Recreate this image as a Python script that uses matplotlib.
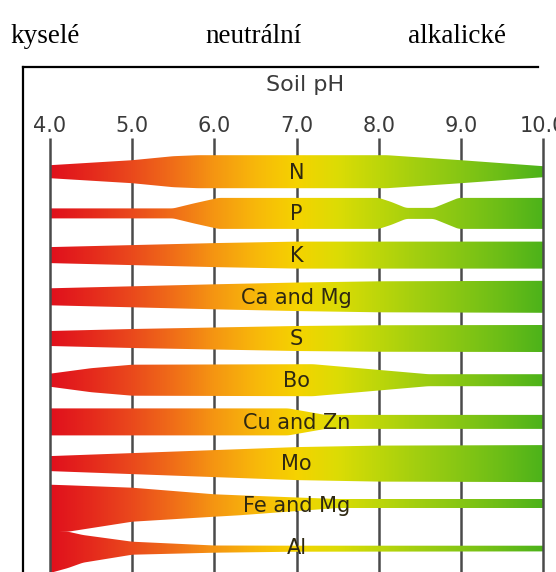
import numpy as np
import matplotlib.pyplot as plt
from matplotlib.colors import LinearSegmentedColormap
from matplotlib.patches import Polygon

headers = ['kyselé', 'neutrální', 'alkalické']
ph_ticks = [4.0, 5.0, 6.0, 7.0, 8.0, 9.0, 10.0]
nutrients = ['N', 'P', 'K', 'Ca and Mg', 'S', 'Bo', 'Cu and Zn', 'Mo', 'Fe and Mg', 'Al']

# band thickness along pH, symmetric bands
ph_n = [4.0, 4.5, 5.0, 5.5, 5.8, 8.1, 9.0, 10.0]
w_n = [13, 18, 23, 31, 33, 33, 23, 11]
ph_p = [4.0, 5.5, 5.75, 6.05, 8.0, 8.15, 8.33, 8.67, 8.85, 8.97, 10.0]
w_p = [10, 10, 20, 31, 31, 23, 11, 11, 23, 31, 31]
ph_k = [4.0, 5.0, 6.0, 7.0, 10.0]
w_k = [16, 20, 24, 27, 27]
ph_ca = [4.0, 5.0, 6.0, 7.0, 8.0, 10.0]
w_ca = [17, 21, 25, 28.5, 31, 32]
ph_s = [4.0, 5.0, 6.0, 7.0, 8.0, 10.0]
w_s = [15, 19, 22, 25, 26.5, 27]
ph_bo = [4.0, 4.5, 5.0, 7.2, 8.6, 10.0]
w_bo = [13, 24, 31, 32, 12, 12]
ph_cu = [4.0, 6.9, 7.35, 10.0]
w_cu = [27, 27, 14, 14]
ph_mo = [4.0, 5.0, 6.0, 7.0, 8.0, 10.0]
w_mo = [15, 21, 27, 33, 36, 37]

# the last two bands are not symmetric: extent above and below the row line
ph_fe = [4.0, 4.22, 5.0, 6.0, 6.3, 7.5, 10.0]
fe_up = [20.6, 20.0, 17.6, 11.0, 10.0, 6.3, 6.3]
fe_down = [27.0, 26.4, 16.4, 11.4, 10.0, 2.7, 2.7]
ph_al = [4.0, 4.22, 4.4, 5.0, 6.0, 7.0, 10.0]
al_up = [15.3, 15.3, 12.0, 5.3, 1.5, 1.3, 1.3]
al_down = [26.0, 21.0, 15.7, 7.7, 5.7, 4.7, 4.4]

bands = [
    (ph_n, [w / 2 for w in w_n], [w / 2 for w in w_n]),
    (ph_p, [w / 2 for w in w_p], [w / 2 for w in w_p]),
    (ph_k, [w / 2 for w in w_k], [w / 2 for w in w_k]),
    (ph_ca, [w / 2 for w in w_ca], [w / 2 for w in w_ca]),
    (ph_s, [w / 2 for w in w_s], [w / 2 for w in w_s]),
    (ph_bo, [w / 2 for w in w_bo], [w / 2 for w in w_bo]),
    (ph_cu, [w / 2 for w in w_cu], [w / 2 for w in w_cu]),
    (ph_mo, [w / 2 for w in w_mo], [w / 2 for w in w_mo]),
    (ph_fe, fe_up, fe_down),
    (ph_al, al_up, al_down),
]

W, H = 556, 572
row_px = 41.7          # pixels between rows
unit = 1 / row_px      # band thickness pixels -> row units

cmap = LinearSegmentedColormap.from_list('ph', [
    (0.0, '#e0101c'), (0.083, '#e52a1c'), (0.167, '#ea4a1c'),
    (0.25, '#f06e18'), (0.333, '#f59612'), (0.417, '#f8b80a'),
    (0.5, '#f5d300'), (0.583, '#dcdc05'), (0.667, '#bcd60a'),
    (0.75, '#a0ce10'), (0.833, '#86c614'), (0.917, '#6bbd17'),
    (1.0, '#4cb21a')])


def smooth(v, n=7):
    k = np.ones(n) / n
    pad = np.pad(v, n // 2, mode='edge')
    return np.convolve(pad, k, mode='valid')


fig = plt.figure(figsize=(W / 100, H / 100), dpi=100)
ax = fig.add_axes([0, 0, 1, 1])
ax.axis('off')

xs = np.linspace(4.0, 10.0, 601)
grad = np.linspace(0, 1, 512).reshape(1, -1)

for i, (ph, up, down) in enumerate(bands):
    top = i - smooth(np.interp(xs, ph, up)) * unit
    bot = i + smooth(np.interp(xs, ph, down)) * unit
    verts = np.vstack([np.column_stack([xs, top]),
                       np.column_stack([xs[::-1], bot[::-1]])])
    poly = Polygon(verts, closed=True, facecolor='none', edgecolor='none')
    ax.add_patch(poly)
    im = ax.imshow(grad, cmap=cmap, extent=(4.0, 10.0, i + 1, i - 1),
                   aspect='auto', interpolation='bilinear', zorder=2)
    im.set_clip_path(poly)
    ax.text(7.0, i + 0.02, nutrients[i], ha='center', va='center',
            fontsize=15, color='#2e2812', zorder=5)

# grid lines, the outer two on top of the band ends
line_top = (138 - 171.7) / row_px
for p in ph_ticks:
    z = 4 if p in (4.0, 10.0) else 1
    ax.plot([p, p], [line_top, 10], color='#4a4a4a', lw=1.8, zorder=z,
            solid_capstyle='butt')
    ax.text(p, (125.5 - 171.7) / row_px, f'{p:.1f}', ha='center',
            va='center', fontsize=15, color='#3a3a3a')

ax.text(7.1, (85 - 171.7) / row_px, 'Soil pH', ha='center', va='center',
        fontsize=16, color='#3a3a3a')

ax.set_xlim(4 - 50 / 82.2, 4 + (W - 50) / 82.2)
ax.set_ylim((H - 171.7) / row_px, -171.7 / row_px)

# frame around the chart (cut off at the right and bottom)
fig.add_artist(plt.Line2D([23 / W, 538 / W], [1 - 67 / H, 1 - 67 / H],
                          color='black', lw=1.6, transform=fig.transFigure))
fig.add_artist(plt.Line2D([23 / W, 23 / W], [1 - 67 / H, 0],
                          color='black', lw=1.6, transform=fig.transFigure))

for name, x in zip(headers, [10, 205, 408]):
    fig.text(x / W, 1 - 43 / H, name, ha='left', va='baseline',
             fontsize=19.5, family='Liberation Serif', color='black')

fig.savefig('out.png', dpi=100, facecolor='white')
